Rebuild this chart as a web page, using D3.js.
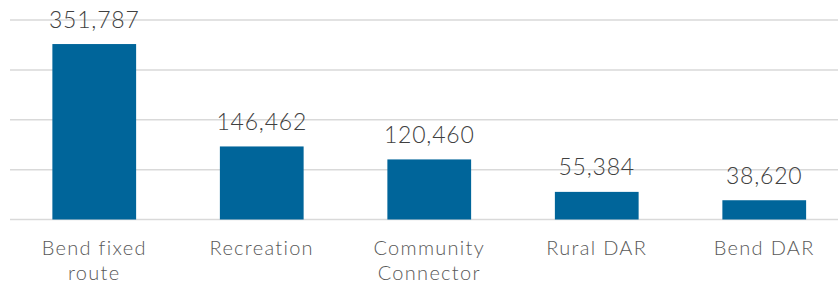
<!DOCTYPE html>
<html>
<head>
<meta charset="utf-8">
<script src="https://cdn.jsdelivr.net/npm/d3@7"></script>
<style>
  body { margin: 0; background: #fff; }
  text { font-family: Lato, "Noto Sans", sans-serif; font-weight: 300; }
</style>
</head>
<body>
<div id="chart"></div>
<script>
var categories = [["Bend fixed", "route"], ["Recreation"], ["Community", "Connector"], ["Rural DAR"], ["Bend DAR"]];
var values = [351787, 146462, 120460, 55384, 38620];
var yTicks = [0, 100000, 200000, 300000, 400000];

var width = 838, height = 288;
var plotLeft = 10.5, step = 167.5;
var baseline = 219.5, plotTop = 20;

var svg = d3.select('#chart').append('svg')
  .attr('width', width)
  .attr('height', height);

var x = d3.scaleBand()
  .domain(d3.range(values.length))
  .range([plotLeft, plotLeft + step * values.length])
  .paddingInner(0.5)
  .paddingOuter(0.25);

var y = d3.scaleLinear()
  .domain([0, 400000])
  .range([baseline, plotTop]);

// gridlines
svg.selectAll('.grid')
  .data(yTicks)
  .enter().append('line')
  .attr('class', 'grid')
  .attr('x1', 10)
  .attr('x2', width)
  .attr('y1', function(d){ return y(d); })
  .attr('y2', function(d){ return y(d); })
  .attr('stroke', '#d9d9d9')
  .attr('stroke-width', 1.5);

svg.selectAll('.bar')
  .data(values)
  .enter().append('rect')
  .attr('class', 'bar')
  .attr('x', function(d, i){ return x(i); })
  .attr('width', x.bandwidth())
  .attr('y', function(d){ return y(d); })
  .attr('height', function(d){ return baseline - y(d); })
  .attr('fill', '#00659a');

var fmt = d3.format(',');

svg.selectAll('.value')
  .data(values)
  .enter().append('text')
  .attr('class', 'value')
  .attr('x', function(d, i){ return x(i) + x.bandwidth() / 2; })
  .attr('y', function(d){ return y(d) - 16.5; })
  .attr('text-anchor', 'middle')
  .attr('font-size', 23)
  .attr('letter-spacing', 0.8)
  .attr('fill', '#404040')
  .text(function(d){ return fmt(d); });

var cat = svg.selectAll('.cat')
  .data(categories)
  .enter().append('text')
  .attr('class', 'cat')
  .attr('text-anchor', 'middle')
  .attr('font-size', 20)
  .attr('letter-spacing', 1.3)
  .attr('fill', '#595959');

cat.selectAll('tspan')
  .data(function(d, i){ return d.map(function(s){ return {s: s, i: i}; }); })
  .enter().append('tspan')
  .attr('x', function(d){ return x(d.i) + x.bandwidth() / 2; })
  .attr('y', function(d, j){ return 255 + j * 25; })
  .text(function(d){ return d.s; });
</script>
</body>
</html>
